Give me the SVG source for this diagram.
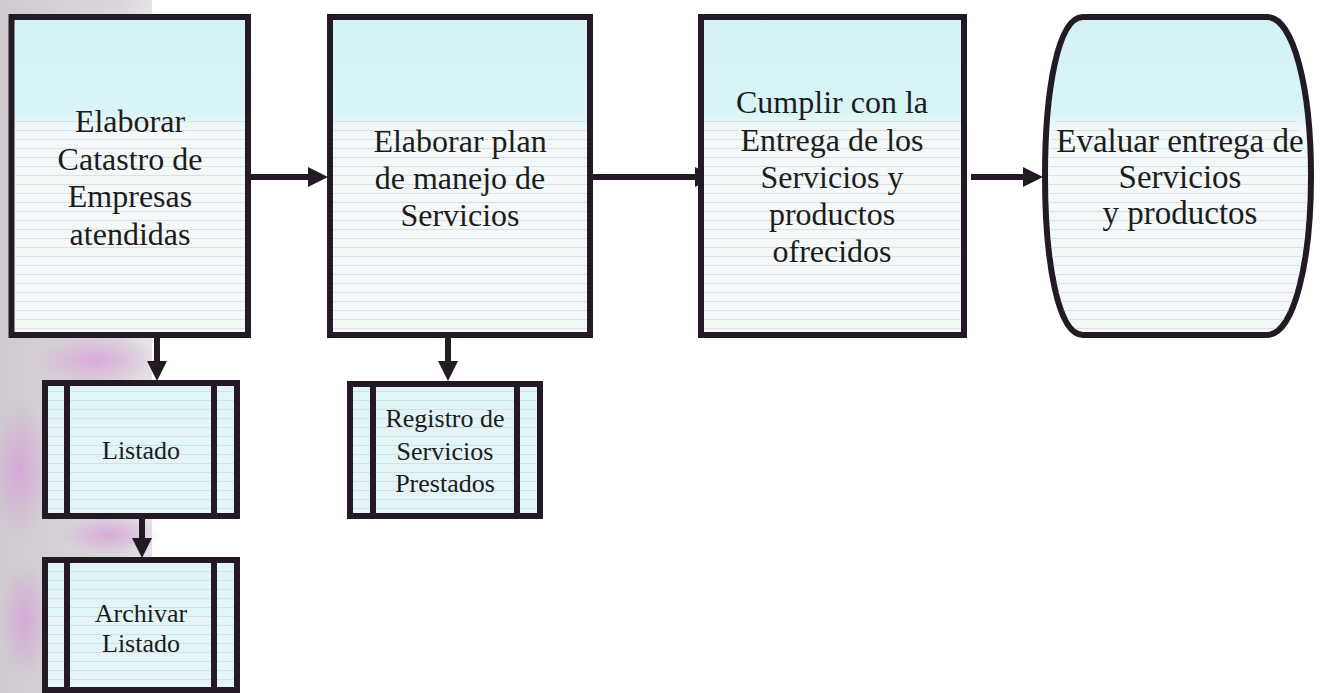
<svg xmlns="http://www.w3.org/2000/svg" width="1322" height="693" viewBox="0 0 1322 693">
<defs>
  <linearGradient id="boxFill" x1="0" y1="0" x2="0" y2="1">
    <stop offset="0" stop-color="#d4f2f6"/>
    <stop offset="0.3" stop-color="#d8f4f7"/>
    <stop offset="0.36" stop-color="#f3f8f9"/>
    <stop offset="1" stop-color="#f5f8f8"/>
  </linearGradient>
  <linearGradient id="smallFill" x1="0" y1="0" x2="0" y2="1">
    <stop offset="0" stop-color="#e0f5f8"/>
    <stop offset="1" stop-color="#e4f5f7"/>
  </linearGradient>
  <pattern id="stripes" x="0" y="0" width="10" height="9" patternUnits="userSpaceOnUse">
    <rect x="0" y="4" width="10" height="1" fill="#cfd8d9" opacity="0.7"/>
  </pattern>
  <linearGradient id="bgLeft" x1="0" y1="0" x2="1" y2="0">
    <stop offset="0" stop-color="#cfcacf"/>
    <stop offset="0.8" stop-color="#dcd7dc"/>
    <stop offset="1" stop-color="#e6e2e6"/>
  </linearGradient>
  <radialGradient id="pink" cx="0.5" cy="0.5" r="0.5">
    <stop offset="0" stop-color="#d79ad9" stop-opacity="0.7"/>
    <stop offset="1" stop-color="#d79ad9" stop-opacity="0"/>
  </radialGradient>
  <marker id="arrow" markerUnits="userSpaceOnUse" markerWidth="22" markerHeight="22" refX="2" refY="10" orient="auto" viewBox="0 0 22 22">
    <path d="M0,0 L20,10 L0,20 Z" fill="#231a25"/>
  </marker>
  <style>
    .box { fill: url(#boxFill); stroke: #231a25; stroke-width: 6; }
    .small { fill: url(#smallFill); stroke: #231a25; stroke-width: 6; }
    .bar { stroke: #231a25; stroke-width: 6; }
    .stripe { fill: url(#stripes); stroke: none; }
    .conn { stroke: #231a25; stroke-width: 6; fill: none; marker-end: url(#arrow); }
    .big { font-family: "Liberation Serif", "Times New Roman", serif; font-size: 32px; fill: #1c1c1c; text-anchor: middle; }
    .lbl { font-family: "Liberation Serif", "Times New Roman", serif; font-size: 26px; fill: #1c1c1c; text-anchor: middle; }
  </style>
</defs>

<rect x="0" y="0" width="1322" height="693" fill="#ffffff"/>

<g id="background">
  <rect x="0" y="0" width="152" height="693" fill="url(#bgLeft)"/>
  <ellipse cx="95" cy="360" rx="60" ry="25" fill="url(#pink)"/>
  <ellipse cx="20" cy="470" rx="30" ry="70" fill="url(#pink)"/>
  <ellipse cx="110" cy="535" rx="50" ry="20" fill="url(#pink)"/>
  <ellipse cx="25" cy="620" rx="25" ry="60" fill="url(#pink)"/>
</g>

<g id="connectors">
  <line class="conn" x1="251" y1="177" x2="310" y2="177"/>
  <line class="conn" x1="590" y1="177" x2="697" y2="177"/>
  <line class="conn" x1="971" y1="177" x2="1025" y2="177"/>
  <line class="conn" x1="157" y1="338" x2="157" y2="363"/>
  <line class="conn" x1="448" y1="338" x2="448" y2="363"/>
  <line class="conn" x1="142" y1="519" x2="142" y2="540"/>
</g>

<g id="node-catastro">
  <rect class="box" x="11.5" y="17" width="236.5" height="318"/>
  <rect class="stripe" x="14.5" y="120" width="230.5" height="212"/>
  <text class="big" x="130" y="132">Elaborar</text>
  <text class="big" x="130" y="170">Catastro de</text>
  <text class="big" x="130" y="207">Empresas</text>
  <text class="big" x="130" y="245">atendidas</text>
</g>

<g id="node-plan">
  <rect class="box" x="330" y="17" width="260" height="318"/>
  <rect class="stripe" x="333" y="120" width="254" height="212"/>
  <text class="big" x="460" y="152">Elaborar plan</text>
  <text class="big" x="460" y="189">de manejo de</text>
  <text class="big" x="460" y="226">Servicios</text>
</g>

<g id="node-cumplir">
  <rect class="box" x="701" y="17" width="263" height="318"/>
  <rect class="stripe" x="704" y="120" width="257" height="212"/>
  <text class="big" x="832" y="113">Cumplir con la</text>
  <text class="big" x="832" y="151">Entrega de los</text>
  <text class="big" x="832" y="188">Servicios y</text>
  <text class="big" x="832" y="225">productos</text>
  <text class="big" x="832" y="262">ofrecidos</text>
</g>

<g id="node-evaluar">
  <path class="box" d="M1083,17 L1267,17 C1294,17 1311,90 1311,176 C1311,262 1294,335 1267,335 L1083,335 C1058,335 1045,262 1045,176 C1045,90 1058,17 1083,17 Z"/>
  <path class="stripe" d="M1083,120 L1295,120 C1306,150 1308,165 1308,176 C1308,262 1292,332 1267,332 L1083,332 C1060,332 1048,262 1048,176 C1048,160 1050,140 1055,120 Z"/>
  <text class="big" x="1180" y="152" style="font-size:33px">Evaluar entrega de</text>
  <text class="big" x="1180" y="188" style="font-size:33px">Servicios</text>
  <text class="big" x="1180" y="224" style="font-size:33px">y productos</text>
</g>

<g id="node-listado">
  <rect class="small" x="45" y="383" width="192" height="133"/>
  <rect class="stripe" x="48" y="386" width="186" height="127"/>
  <line class="bar" x1="67" y1="383" x2="67" y2="516"/>
  <line class="bar" x1="214" y1="383" x2="214" y2="516"/>
  <text class="lbl" x="141" y="459">Listado</text>
</g>

<g id="node-registro">
  <rect class="small" x="350" y="384" width="190" height="132"/>
  <rect class="stripe" x="353" y="387" width="184" height="126"/>
  <line class="bar" x1="373" y1="384" x2="373" y2="516"/>
  <line class="bar" x1="517" y1="384" x2="517" y2="516"/>
  <text class="lbl" x="445" y="427">Registro de</text>
  <text class="lbl" x="445" y="460">Servicios</text>
  <text class="lbl" x="445" y="492">Prestados</text>
</g>

<g id="node-archivar">
  <rect class="small" x="45" y="560" width="192" height="130"/>
  <rect class="stripe" x="48" y="563" width="186" height="124"/>
  <line class="bar" x1="67" y1="560" x2="67" y2="690"/>
  <line class="bar" x1="214" y1="560" x2="214" y2="690"/>
  <text class="lbl" x="141" y="622">Archivar</text>
  <text class="lbl" x="141" y="652">Listado</text>
</g>
</svg>
